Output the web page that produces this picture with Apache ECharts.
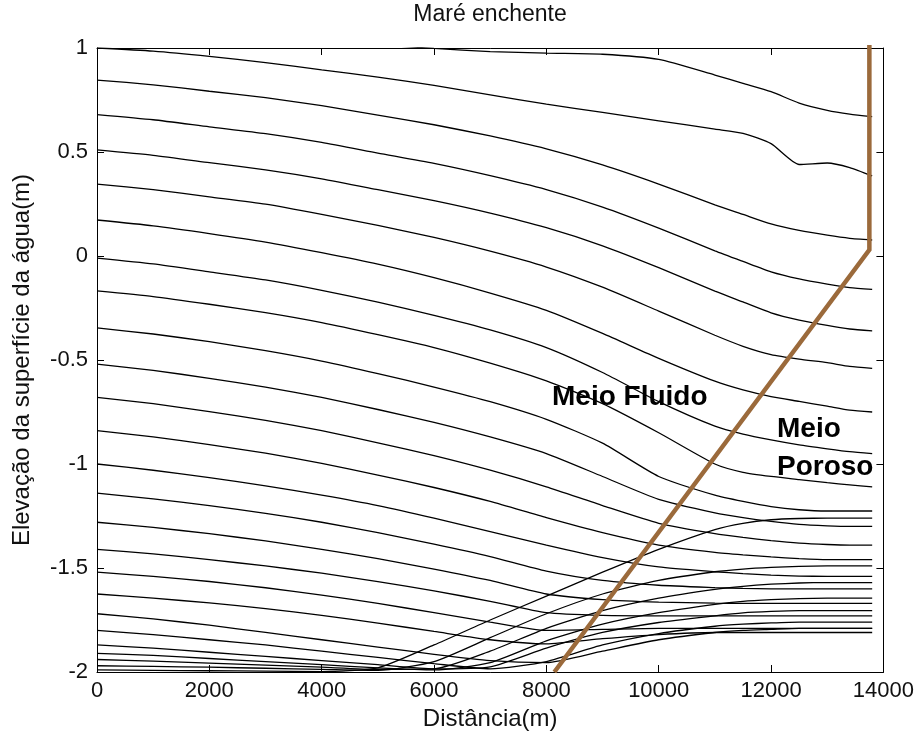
<!DOCTYPE html>
<html>
<head>
<meta charset="utf-8">
<script src="https://cdn.jsdelivr.net/npm/echarts@6/dist/echarts.min.js"></script>
<style>
  html, body { margin: 0; padding: 0; background: #fff; }
  #chart { width: 917px; height: 736px; }
</style>
</head>
<body>
<div id="chart"></div>
<script>
// Distance along the channel (m) where each water-surface profile is sampled
const distances = [0, 1000, 2000, 3000, 4000, 5000, 6000, 7000, 8000, 9000, 10000, 11000, 11500, 12000, 12500, 13000, 13400, 13800];

// Water-surface elevation (m) profiles, one per time step of the rising tide
const snap01 = [1.06, 1.055, 1.048, 1.04, 1.03, 1.015, 0.998, 0.983, 0.975, 0.97, 0.945, 0.87, 0.83, 0.79, 0.735, 0.7, 0.682, 0.67];
const snap02 = [1.0, 0.985, 0.96, 0.93, 0.895, 0.86, 0.82, 0.775, 0.73, 0.69, 0.65, 0.61, 0.59, 0.54, 0.44, 0.447, 0.425, 0.385];
const snap03 = [0.846, 0.823, 0.792, 0.761, 0.723, 0.677, 0.631, 0.577, 0.515, 0.438, 0.346, 0.246, 0.2, 0.154, 0.123, 0.1, 0.085, 0.077];
const snap04 = [0.68, 0.655, 0.621, 0.588, 0.546, 0.495, 0.445, 0.386, 0.319, 0.235, 0.134, 0.025, -0.026, -0.076, -0.11, -0.135, -0.152, -0.16];
const snap05 = [0.51, 0.484, 0.449, 0.414, 0.371, 0.319, 0.266, 0.206, 0.136, 0.049, -0.056, -0.169, -0.221, -0.273, -0.308, -0.334, -0.351, -0.36];
const snap06 = [0.346, 0.319, 0.284, 0.249, 0.2, 0.147, 0.089, 0.023, -0.053, -0.15, -0.265, -0.381, -0.434, -0.474, -0.496, -0.513, -0.531, -0.54];
const snap07 = [0.173, 0.145, 0.108, 0.067, 0.016, -0.039, -0.104, -0.178, -0.261, -0.372, -0.492, -0.602, -0.644, -0.676, -0.699, -0.722, -0.741, -0.75];
const snap08 = [-0.01, -0.038, -0.076, -0.115, -0.165, -0.222, -0.285, -0.355, -0.44, -0.56, -0.7, -0.818, -0.856, -0.884, -0.908, -0.927, -0.941, -0.95];
const snap09 = [-0.168, -0.195, -0.232, -0.272, -0.32, -0.378, -0.44, -0.515, -0.6, -0.71, -0.85, -1.0, -1.04, -1.06, -1.075, -1.09, -1.1, -1.11];
const snap10 = [-0.346, -0.375, -0.412, -0.455, -0.505, -0.565, -0.63, -0.7, -0.785, -0.9, -1.06, -1.15, -1.18, -1.205, -1.22, -1.226, -1.226, -1.226];
const snap11 = [-0.52, -0.55, -0.588, -0.63, -0.68, -0.738, -0.8, -0.87, -0.95, -1.06, -1.17, -1.235, -1.258, -1.276, -1.29, -1.297, -1.3, -1.3];
const snap12 = [-0.68, -0.71, -0.748, -0.79, -0.84, -0.898, -0.96, -1.03, -1.11, -1.2, -1.285, -1.335, -1.353, -1.368, -1.38, -1.387, -1.39, -1.39];
const snap13 = [-0.84, -0.87, -0.907, -0.948, -0.997, -1.053, -1.113, -1.18, -1.258, -1.33, -1.39, -1.425, -1.437, -1.447, -1.455, -1.46, -1.46, -1.46];
const snap14 = [-1.0, -1.03, -1.066, -1.105, -1.15, -1.2, -1.26, -1.325, -1.39, -1.45, -1.495, -1.518, -1.527, -1.534, -1.539, -1.54, -1.54, -1.54];
const snap15 = [-1.14, -1.168, -1.2, -1.237, -1.28, -1.33, -1.385, -1.445, -1.515, -1.56, -1.583, -1.594, -1.598, -1.6, -1.6, -1.6, -1.6, -1.6];
const snap16 = [-1.28, -1.305, -1.335, -1.37, -1.41, -1.455, -1.505, -1.56, -1.625, -1.652, -1.664, -1.669, -1.67, -1.67, -1.67, -1.67, -1.67, -1.67];
const snap17 = [-1.41, -1.432, -1.46, -1.49, -1.525, -1.565, -1.61, -1.66, -1.715, -1.728, -1.73, -1.73, -1.73, -1.73, -1.73, -1.73, -1.73, -1.73];
const snap18 = [-1.52, -1.54, -1.565, -1.595, -1.63, -1.67, -1.715, -1.76, -1.8, -1.795, -1.79, -1.79, -1.79, -1.79, -1.79, -1.79, -1.79, -1.79];
const snap19 = [-1.625, -1.645, -1.668, -1.695, -1.728, -1.765, -1.805, -1.845, -1.865, -1.84, -1.82, -1.81, -1.81, -1.81, -1.81, -1.81, -1.81, -1.81];
const snap20 = [-1.72, -1.745, -1.775, -1.81, -1.845, -1.88, -1.915, -1.945, -1.955, -1.9, -1.845, -1.81, -1.8, -1.795, -1.79, -1.79, -1.79, -1.79];
const snap21 = [-1.8, -1.82, -1.845, -1.87, -1.9, -1.93, -1.96, -1.985, -1.95, -1.87, -1.815, -1.78, -1.77, -1.764, -1.76, -1.76, -1.76, -1.76];
const snap22 = [-1.87, -1.885, -1.905, -1.925, -1.945, -1.965, -1.985, -1.975, -1.885, -1.81, -1.762, -1.73, -1.716, -1.709, -1.705, -1.705, -1.705, -1.705];
const snap23 = [-1.91, -1.92, -1.935, -1.95, -1.965, -1.98, -1.99, -1.955, -1.85, -1.77, -1.715, -1.675, -1.66, -1.652, -1.647, -1.645, -1.645, -1.645];
const snap24 = [-1.94, -1.948, -1.957, -1.967, -1.977, -1.987, -1.985, -1.9, -1.79, -1.705, -1.645, -1.603, -1.588, -1.578, -1.572, -1.57, -1.57, -1.57];
const snap25 = [-1.97, -1.973, -1.977, -1.982, -1.987, -1.992, -1.95, -1.835, -1.72, -1.625, -1.56, -1.518, -1.505, -1.497, -1.492, -1.49, -1.49, -1.49];
const snap26 = [-1.99, -1.992, -1.994, -1.996, -1.998, -1.98, -1.87, -1.75, -1.635, -1.52, -1.41, -1.315, -1.285, -1.268, -1.262, -1.26, -1.26, -1.26];

const snapshots = [snap01, snap02, snap03, snap04, snap05, snap06, snap07, snap08, snap09, snap10,
  snap11, snap12, snap13, snap14, snap15, snap16, snap17, snap18, snap19, snap20,
  snap21, snap22, snap23, snap24, snap25, snap26];

// Interface between the open channel (fluid) and the porous bed
const interfaceDist = [8142, 13750, 13750];
const interfaceElev = [-2, 0.03, 1.015];

// Axis ticks
const xTicks = { min: 0, max: 14000, step: 2000 };
const yTicks = { min: -2, max: 1, step: 0.5 };

const FONT = 'Liberation Sans, Arial, Helvetica, sans-serif';

const chart = echarts.init(document.getElementById('chart'), null, { renderer: 'canvas' });

const profileSeries = snapshots.map((vals, k) => ({
  type: 'line',
  name: 'perfil ' + (k + 1),
  data: distances.map((d, i) => [d, vals[i]]),
  showSymbol: false,
  symbol: 'none',
  smooth: 0.2,
  clip: true,
  lineStyle: { color: '#000', width: 1.3 },
  z: 2,
  silent: true
}));

const interfaceSeries = {
  type: 'line',
  name: 'interface',
  data: interfaceDist.map((d, i) => [d, interfaceElev[i]]),
  showSymbol: false,
  symbol: 'none',
  clip: false,
  lineStyle: { color: '#9b6a3b', width: 4.5, cap: 'butt', join: 'miter' },
  z: 5,
  silent: true
};

const baseAxisLine = { show: true, onZero: false, lineStyle: { color: '#000', width: 1 } };
const baseTick = { show: true, inside: true, length: 7, lineStyle: { color: '#000', width: 1 } };
const plainNumber = v => String(v);

chart.setOption({
  animation: false,
  backgroundColor: '#fff',
  grid: { left: 97, right: 33, top: 48, bottom: 64, containLabel: false },
  xAxis: [
    {
      type: 'value', position: 'bottom',
      min: xTicks.min, max: xTicks.max, interval: xTicks.step,
      name: 'Distância(m)', nameLocation: 'middle', nameGap: 33,
      nameTextStyle: { fontFamily: FONT, fontSize: 24, color: '#111' },
      axisLine: baseAxisLine, axisTick: baseTick,
      axisLabel: { fontFamily: FONT, fontSize: 22, color: '#111', margin: 8, formatter: plainNumber },
      splitLine: { show: false }
    },
    {
      type: 'value', position: 'top',
      min: xTicks.min, max: xTicks.max, interval: xTicks.step,
      axisLine: baseAxisLine, axisTick: baseTick,
      axisLabel: { show: false }, splitLine: { show: false }
    }
  ],
  yAxis: [
    {
      type: 'value', position: 'left',
      min: yTicks.min, max: yTicks.max, interval: yTicks.step,
      name: 'Elevação da superfície da água(m)', nameLocation: 'middle', nameGap: 63,
      nameTextStyle: { fontFamily: FONT, fontSize: 24, color: '#111' },
      axisLine: baseAxisLine, axisTick: baseTick,
      axisLabel: { fontFamily: FONT, fontSize: 22, color: '#111', margin: 9, formatter: plainNumber },
      splitLine: { show: false }
    },
    {
      type: 'value', position: 'right',
      min: yTicks.min, max: yTicks.max, interval: yTicks.step,
      axisLine: baseAxisLine, axisTick: baseTick,
      axisLabel: { show: false }, splitLine: { show: false }
    }
  ],
  graphic: [
    { type: 'text', x: 490, y: 15, silent: true,
      style: { text: 'Maré enchente', font: '23px ' + FONT, fill: '#111', align: 'center', verticalAlign: 'middle' } },
    { type: 'text', x: 552, y: 397, silent: true, z: 10,
      style: { text: 'Meio Fluido', font: 'bold 28px ' + FONT, fill: '#000', align: 'left', verticalAlign: 'middle' } },
    { type: 'text', x: 777, y: 429, silent: true, z: 10,
      style: { text: 'Meio', font: 'bold 28px ' + FONT, fill: '#000', align: 'left', verticalAlign: 'middle' } },
    { type: 'text', x: 777, y: 467, silent: true, z: 10,
      style: { text: 'Poroso', font: 'bold 28px ' + FONT, fill: '#000', align: 'left', verticalAlign: 'middle' } }
  ],
  series: profileSeries.concat([interfaceSeries])
});
</script>
</body>
</html>
